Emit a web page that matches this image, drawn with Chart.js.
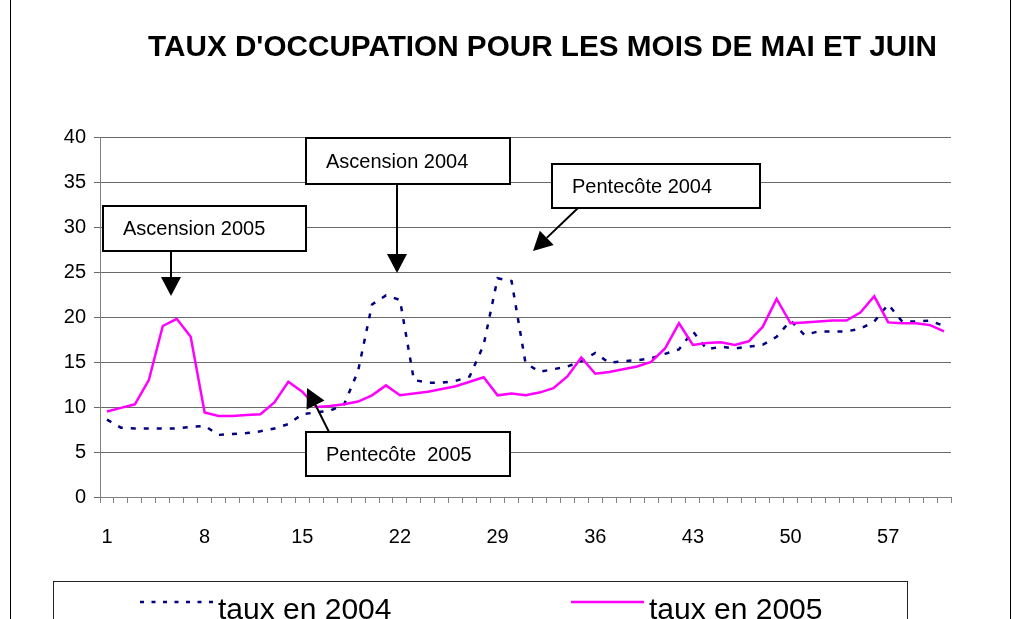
<!DOCTYPE html>
<html>
<head>
<meta charset="utf-8">
<script src="https://cdn.jsdelivr.net/npm/chart.js@4"></script>
<style>
  body { margin: 0; background: #fff; }
  canvas { display: block; }
</style>
</head>
<body>
<canvas id="chart" width="1029" height="619"></canvas>
<script>
const days = ['1','2','3','4','5','6','7','8','9','10','11','12','13','14','15','16','17','18','19','20',
  '21','22','23','24','25','26','27','28','29','30','31','32','33','34','35','36','37','38','39','40',
  '41','42','43','44','45','46','47','48','49','50','51','52','53','54','55','56','57','58','59','60','61'];
const shownTicks = ['1','8','15','22','29','36','43','50','57'];

const taux2004 = [8.6,7.7,7.6,7.6,7.6,7.6,7.8,7.9,6.9,7.0,7.1,7.3,7.6,8.1,9.2,9.4,9.6,10.3,14.0,21.4,
  22.4,21.9,13.0,12.7,12.7,12.9,13.4,16.9,24.3,24.0,14.9,13.9,14.2,14.5,15.1,16.0,14.9,15.1,15.2,15.4,
  15.9,16.4,18.4,16.4,16.7,16.5,16.7,16.9,17.8,19.6,18.0,18.4,18.4,18.4,18.7,19.5,21.4,19.5,19.5,19.6,19.0];
const taux2005 = [9.5,9.9,10.3,13.0,19.0,19.8,17.8,9.4,9.0,9.0,9.1,9.2,10.5,12.8,11.7,10.0,10.1,10.3,10.6,11.3,
  12.4,11.3,11.5,11.7,12.0,12.3,12.8,13.3,11.3,11.5,11.3,11.6,12.1,13.4,15.5,13.7,13.9,14.2,14.5,15.0,
  16.5,19.3,16.9,17.1,17.2,16.9,17.3,18.9,22.0,19.3,19.4,19.5,19.6,19.6,20.5,22.3,19.4,19.3,19.3,19.1,18.4];

const titleText = "TAUX D'OCCUPATION POUR LES MOIS DE MAI ET JUIN";
const seriesNames = ['taux en 2004', 'taux en 2005'];

// call-out boxes: box [x, y, w, h] and arrow from -> tip (pixels)
const callouts = [
  { text: 'Ascension 2005', box: [103, 206, 203, 45], from: [171, 251], tip: [171, 296] },
  { text: 'Ascension 2004', box: [306, 138, 204, 46], from: [397, 184], tip: [397, 273] },
  { text: 'Pentecôte 2004', box: [552, 164, 208, 44], from: [578, 208], tip: [533, 251] },
  { text: 'Pentecôte  2005', box: [306, 432, 204, 44], from: [329, 432], tip: [307, 388] }
];

const FONT = "'Liberation Sans', Arial, sans-serif";

function arrow(ctx, x1, y1, x2, y2) {
  const a = Math.atan2(y2 - y1, x2 - x1);
  const len = 19, half = 10;
  const bx = x2 - len * Math.cos(a), by = y2 - len * Math.sin(a);
  ctx.beginPath();
  ctx.moveTo(x1, y1);
  ctx.lineTo(bx, by);
  ctx.stroke();
  ctx.beginPath();
  ctx.moveTo(x2, y2);
  ctx.lineTo(bx + half * Math.sin(a), by - half * Math.cos(a));
  ctx.lineTo(bx - half * Math.sin(a), by + half * Math.cos(a));
  ctx.closePath();
  ctx.fill();
}

const decor = {
  id: 'decor',
  afterDraw(chart) {
    const ctx = chart.ctx;
    ctx.save();
    // outer frame (only sides visible)
    ctx.strokeStyle = '#000';
    ctx.lineWidth = 1;
    ctx.strokeRect(10.5, -5, 1000, 640);

    // title
    ctx.fillStyle = '#000';
    ctx.font = 'bold 29.7px ' + FONT;
    ctx.textAlign = 'center';
    ctx.textBaseline = 'middle';
    ctx.fillText(titleText, 542.5, 48);

    // call-outs
    ctx.font = '20px ' + FONT;
    ctx.textAlign = 'left';
    callouts.forEach(c => {
      const [x, y, w, h] = c.box;
      ctx.fillStyle = '#fff';
      ctx.fillRect(x, y, w, h);
      ctx.lineWidth = 2;
      ctx.strokeStyle = '#000';
      ctx.strokeRect(x, y, w, h);
      ctx.fillStyle = '#000';
      ctx.fillText(c.text, x + 20, y + h / 2 + 1);
      arrow(ctx, c.from[0], c.from[1], c.tip[0], c.tip[1]);
    });

    // legend box
    ctx.lineWidth = 1;
    ctx.strokeStyle = '#222';
    ctx.strokeRect(53.5, 581.5, 854, 60);
    const items = [
      { ds: chart.data.datasets[0], x: 140, dash: [4, 7.5] },
      { ds: chart.data.datasets[1], x: 571, dash: [] }
    ];
    ctx.font = '30px ' + FONT;
    ctx.textBaseline = 'alphabetic';
    items.forEach(it => {
      ctx.strokeStyle = it.ds.borderColor;
      ctx.lineWidth = 2.5;
      ctx.setLineDash(it.dash);
      ctx.beginPath();
      ctx.moveTo(it.x, 602);
      ctx.lineTo(it.x + 73, 602);
      ctx.stroke();
      ctx.setLineDash([]);
      ctx.fillStyle = '#000';
      ctx.fillText(it.ds.label, it.x + 78, 619);
    });
    ctx.restore();
  }
};

new Chart(document.getElementById('chart').getContext('2d'), {
  type: 'line',
  data: {
    labels: days,
    datasets: [
      {
        label: seriesNames[0],
        data: taux2004,
        borderColor: '#000080',
        borderWidth: 2.5,
        borderDash: [5, 8],
        pointRadius: 0,
        tension: 0,
        fill: false,
        order: 1
      },
      {
        label: seriesNames[1],
        data: taux2005,
        borderColor: '#ff00ff',
        borderWidth: 2.5,
        pointRadius: 0,
        tension: 0,
        fill: false,
        order: 0
      }
    ]
  },
  options: {
    responsive: false,
    devicePixelRatio: 1,
    animation: false,
    layout: { padding: { top: 137, left: 0, right: 78, bottom: 62 } },
    plugins: {
      legend: { display: false },
      title: { display: false },
      tooltip: { enabled: false }
    },
    scales: {
      x: {
        offset: true,
        afterFit: s => { s.height = 60; },
        grid: { offset: true, drawOnChartArea: false, color: '#808080', tickLength: 6 },
        border: { color: '#808080', width: 1 },
        ticks: {
          autoSkip: false,
          maxRotation: 0,
          padding: 22,
          color: '#000',
          font: { family: FONT, size: 20 },
          callback: function (v, i) {
            const lab = this.getLabelForValue(v);
            return shownTicks.includes(lab) ? lab : '';
          }
        }
      },
      y: {
        min: 0,
        max: 40,
        afterFit: s => { s.width = 100; },
        grid: { color: '#6a6a6a', tickLength: 6 },
        border: { color: '#808080', width: 1 },
        ticks: {
          stepSize: 5,
          padding: 8,
          color: '#000',
          font: { family: FONT, size: 20 }
        }
      }
    }
  },
  plugins: [decor]
});
</script>
</body>
</html>
